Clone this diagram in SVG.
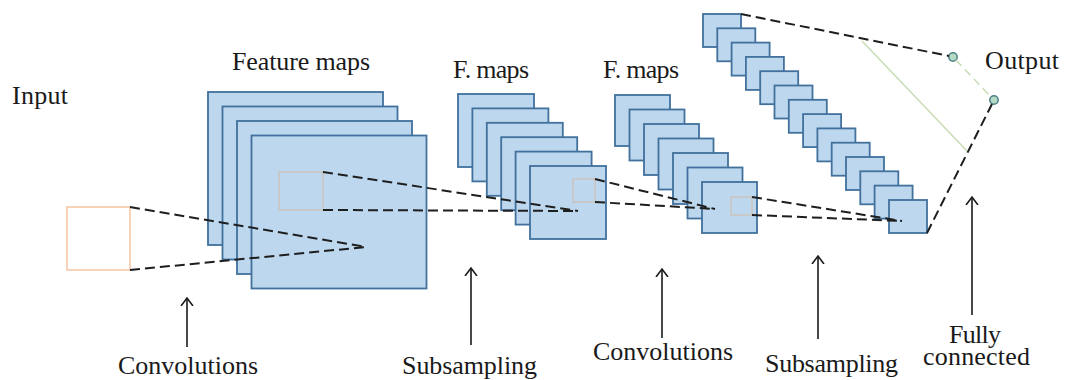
<svg xmlns="http://www.w3.org/2000/svg" width="1065" height="380" viewBox="0 0 1065 380">
  <style>
    .map { fill: #bdd7ee; stroke: #41719c; stroke-width: 1.8; }
    .win { fill: none; stroke: #c8c8c8; stroke-width: 2; }
    .inp { fill: #ffffff; stroke: #f4c7a8; stroke-width: 1.6; }
    .dash { fill: none; stroke: #1e1e1e; stroke-width: 2; stroke-dasharray: 10 5; }
    .fc { fill: none; stroke: #c6dbb2; stroke-width: 1.4; }
    .fcd { fill: none; stroke: #c6dbb2; stroke-width: 1.4; stroke-dasharray: 8 5; }
    .neuron { fill: #b5d9c2; stroke: #4b8088; stroke-width: 1.5; }
    .arrow { fill: none; stroke: #1a1a1a; stroke-width: 1.6; marker-end: url(#head); }
    text { font-family: "Liberation Serif", "Times New Roman", serif; font-size: 26px; fill: #1a1a1a; }
  </style>
  <defs>
    <marker id="head" viewBox="-8 -8 16 16" markerWidth="16" markerHeight="16" refX="0" refY="0" orient="auto" markerUnits="userSpaceOnUse">
      <path d="M-8,-6 L0,0 L-8,6" fill="none" stroke="#1a1a1a" stroke-width="1.6"/>
    </marker>
  </defs>
  <rect width="1065" height="380" fill="#ffffff"/>

  <!-- input image patch -->
  <g id="input">
    <rect class="inp" x="67" y="207" width="63" height="63"/>
    <text x="12" y="104" textLength="56">Input</text>
  </g>

  <!-- first convolution layer: 4 feature maps -->
  <g id="feature-maps">
    <rect class="map" x="208" y="92" width="175" height="153"/>
    <rect class="map" x="222.5" y="106.5" width="175" height="153"/>
    <rect class="map" x="237" y="121" width="175" height="153"/>
    <rect class="map" x="251.5" y="135.5" width="175" height="153"/>
    <rect class="win" x="279" y="172" width="44" height="38"/>
    <text x="232" y="70" textLength="138">Feature maps</text>
  </g>

  <!-- first subsampling layer: 6 maps -->
  <g id="fmaps-1">
    <rect class="map" x="458" y="94" width="76" height="73"/>
    <rect class="map" x="472.4" y="108.4" width="76" height="73"/>
    <rect class="map" x="486.8" y="122.8" width="76" height="73"/>
    <rect class="map" x="501.2" y="137.2" width="76" height="73"/>
    <rect class="map" x="515.6" y="151.6" width="76" height="73"/>
    <rect class="map" x="530" y="166" width="76" height="73"/>
    <rect class="win" x="573" y="179" width="22" height="23"/>
    <text x="453" y="78" textLength="76">F. maps</text>
  </g>

  <!-- second convolution layer: 7 maps -->
  <g id="fmaps-2">
    <rect class="map" x="615" y="95" width="55" height="51"/>
    <rect class="map" x="629.5" y="109.5" width="55" height="51"/>
    <rect class="map" x="644" y="124" width="55" height="51"/>
    <rect class="map" x="658.5" y="138.5" width="55" height="51"/>
    <rect class="map" x="673" y="153" width="55" height="51"/>
    <rect class="map" x="687.5" y="167.5" width="55" height="51"/>
    <rect class="map" x="702" y="182" width="55" height="51"/>
    <rect class="win" x="731" y="197" width="21" height="18"/>
    <text x="603" y="78" textLength="76">F. maps</text>
  </g>

  <!-- second subsampling layer: 14 small maps -->
  <g id="subsampled">
    <rect class="map" x="703" y="14" width="38" height="33"/>
    <rect class="map" x="717.3" y="28.3" width="38" height="33"/>
    <rect class="map" x="731.6" y="42.6" width="38" height="33"/>
    <rect class="map" x="745.9" y="56.9" width="38" height="33"/>
    <rect class="map" x="760.2" y="71.2" width="38" height="33"/>
    <rect class="map" x="774.5" y="85.5" width="38" height="33"/>
    <rect class="map" x="788.8" y="99.8" width="38" height="33"/>
    <rect class="map" x="803.1" y="114.1" width="38" height="33"/>
    <rect class="map" x="817.4" y="128.4" width="38" height="33"/>
    <rect class="map" x="831.7" y="142.7" width="38" height="33"/>
    <rect class="map" x="846" y="157" width="38" height="33"/>
    <rect class="map" x="860.3" y="171.3" width="38" height="33"/>
    <rect class="map" x="874.6" y="185.6" width="38" height="33"/>
    <rect class="map" x="889" y="200" width="38" height="33"/>
  </g>

  <!-- output neurons -->
  <g id="output">
    <circle class="neuron" cx="953" cy="57" r="4.2"/>
    <circle class="neuron" cx="994" cy="100" r="4.2"/>
    <text x="985" y="69" textLength="74">Output</text>
  </g>

  <!-- receptive-field projections and full connections -->
  <g id="connectors">
    <path class="dash" d="M130,207 L366,247 M130,270 L366,247"/>
    <path class="dash" d="M323,172 L578,211 M323,210 L578,211"/>
    <path class="dash" d="M595,179 L715,209 M595,202 L715,209"/>
    <path class="dash" d="M752,197 L902,221 M752,215 L902,221"/>
    <path class="dash" d="M741,14 L949,56"/>
    <path class="dash" d="M927,233 L992,104"/>
    <path class="fc" d="M862,41 L967,151"/>
    <path class="fcd" d="M956,60 L991,97"/>
  </g>

  <!-- stage labels -->
  <g id="labels">
    <line class="arrow" x1="187" y1="347" x2="187" y2="298"/>
    <text x="118" y="374" textLength="140">Convolutions</text>
    <line class="arrow" x1="471" y1="345" x2="471" y2="268"/>
    <text x="402" y="374" textLength="135">Subsampling</text>
    <line class="arrow" x1="662" y1="338" x2="662" y2="269"/>
    <text x="593" y="360" textLength="140">Convolutions</text>
    <line class="arrow" x1="818" y1="339" x2="818" y2="256"/>
    <text x="765" y="372" textLength="133">Subsampling</text>
    <line class="arrow" x1="972" y1="315" x2="972" y2="197"/>
    <text x="949" y="343" textLength="52">Fully</text>
    <text x="923" y="365" textLength="107">connected</text>
  </g>
</svg>
